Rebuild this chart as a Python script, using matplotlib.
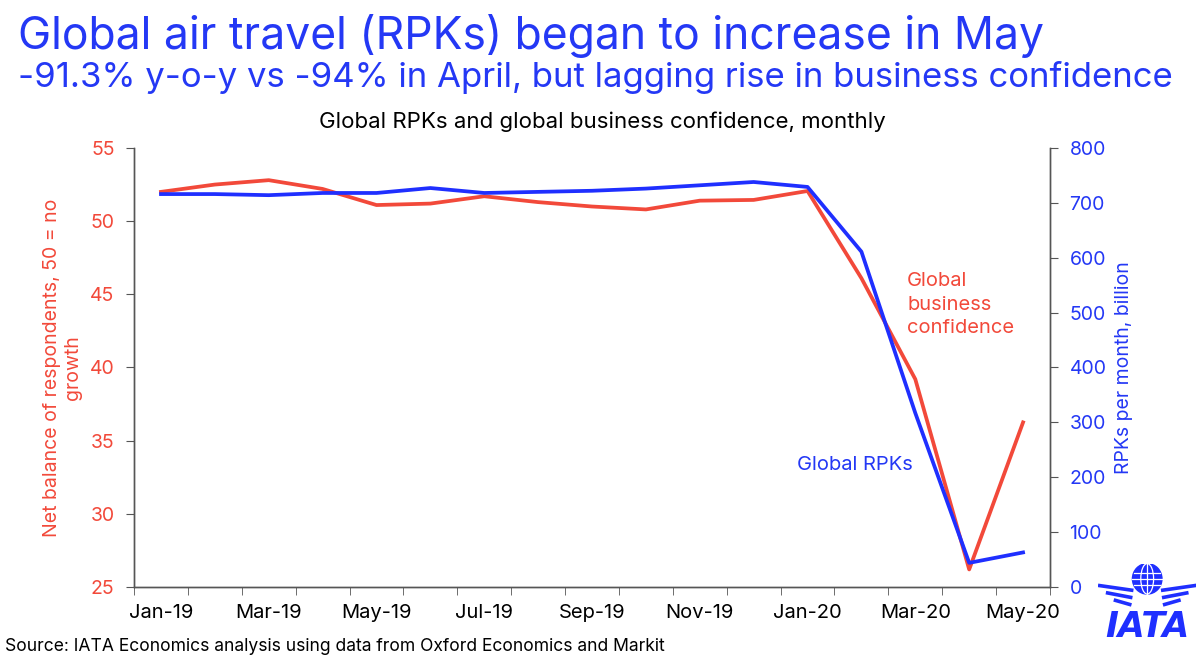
import matplotlib
matplotlib.use("Agg")
import matplotlib.pyplot as plt
import numpy as np
from matplotlib.patches import Ellipse

plt.rcParams['font.family'] = ['Inter', 'DejaVu Sans']

# monthly data, Jan-19 .. May-20
months = ['Jan-19', 'Feb-19', 'Mar-19', 'Apr-19', 'May-19', 'Jun-19', 'Jul-19', 'Aug-19',
          'Sep-19', 'Oct-19', 'Nov-19', 'Dec-19', 'Jan-20', 'Feb-20', 'Mar-20', 'Apr-20', 'May-20']
confidence = [52.0, 52.5, 52.8, 52.2, 51.1, 51.2, 51.7, 51.3, 51.0, 50.8, 51.4, 51.45,
              52.06, 46.1, 39.2, 26.2, 36.25]
rpks = [716, 716, 714, 718, 718, 727, 718, 720, 722, 726, 732, 738, 729, 611, 317, 44, 63]

RED = '#f2493a'
BLUE = '#1f2fff'
TBLUE = '#2438f5'

fig = plt.figure(figsize=(12, 6.6), dpi=100)
ax = fig.add_axes([0.1117, 0.1106, 0.7633, 0.6652])
ax2 = ax.twinx()

x = np.arange(len(months))
ax.plot(x, confidence, color=RED, lw=2.7, zorder=3)
ax2.plot(x, rpks, color=BLUE, lw=2.7, zorder=3)

ax.set_xlim(-0.5, len(months) - 0.5)
ax.set_ylim(25, 55)
ax2.set_ylim(0, 800)
ax.set_yticks(np.arange(25, 56, 5))
ax2.set_yticks(np.arange(0, 801, 100))

ax.set_xticks(x[::2])
ax.set_xticklabels(months[::2])
ax.set_xticks(np.arange(-0.5, len(months)), minor=True)
ax.tick_params(axis='x', which='major', length=0, pad=12, labelsize=14.5, colors='black')
ax.tick_params(axis='x', which='minor', length=6, color='#555555')
ax.tick_params(axis='y', length=6, color='#555555', labelcolor=RED, labelsize=14, pad=8)
ax2.tick_params(axis='y', length=6, color='#555555', labelcolor=TBLUE, labelsize=14, pad=8)

for a in (ax, ax2):
    a.spines['top'].set_visible(False)
    for s in ('left', 'right', 'bottom'):
        a.spines[s].set_color('#555555')
        a.spines[s].set_linewidth(1.0)

ax.set_ylabel('Net balance of respondents, 50 = no\ngrowth', color=RED, fontsize=14, labelpad=6)
ax2.set_ylabel('RPKs per month, billion', color=TBLUE, fontsize=14, labelpad=6)

ax.text(13.85, 44.3, 'Global\nbusiness\nconfidence', color=RED, fontsize=14.5,
        linespacing=1.4, va='center', ha='left')
ax2.text(11.8, 222, 'Global RPKs', color=TBLUE, fontsize=14.5, va='center', ha='left')

fig.text(0.015, 0.945, 'Global air travel (RPKs) began to increase in May', color=TBLUE,
         fontsize=32, va='center', ha='left')
fig.text(0.015, 0.883, '-91.3% y-o-y vs -94% in April, but lagging rise in business confidence',
         color=TBLUE, fontsize=25, va='center', ha='left')
fig.text(0.502, 0.815, 'Global RPKs and global business confidence, monthly', color='black',
         fontsize=16, va='center', ha='center')
fig.text(0.004, 0.02, 'Source: IATA Economics analysis using data from Oxford Economics and Markit',
         color='black', fontsize=12.6, va='center', ha='left')

# simple IATA logo
lax = fig.add_axes([0.915, 0.035, 0.082, 0.11])
lax.set_xlim(0, 1)
lax.set_ylim(0, 1)
lax.axis('off')
lax.add_patch(Ellipse((0.5, 0.8), 0.3, 0.42, color=BLUE))
lax.add_patch(Ellipse((0.5, 0.8), 0.13, 0.42, fill=False, ec='white', lw=0.9))
lax.plot([0.35, 0.65], [0.8, 0.8], color='white', lw=0.9)
lax.plot([0.37, 0.63], [0.88, 0.88], color='white', lw=0.9)
lax.plot([0.37, 0.63], [0.72, 0.72], color='white', lw=0.9)
lax.plot([0.5, 0.5], [0.59, 1.01], color='white', lw=0.9)
for i, yy in enumerate([0.66, 0.56, 0.46]):
    lax.plot([0.0 + i * 0.08, 0.36 - i * 0.01], [yy + 0.05, yy - 0.02], color=BLUE, lw=2.6,
             solid_capstyle='butt')
    lax.plot([1.0 - i * 0.08, 0.64 + i * 0.01], [yy + 0.05, yy - 0.02], color=BLUE, lw=2.6,
             solid_capstyle='butt')
lax.text(0.5, 0.14, 'IATA', color=BLUE, fontsize=25, fontweight='bold', style='italic',
         ha='center', va='center', family=['DejaVu Sans'])

fig.savefig('out.png', dpi=100)
